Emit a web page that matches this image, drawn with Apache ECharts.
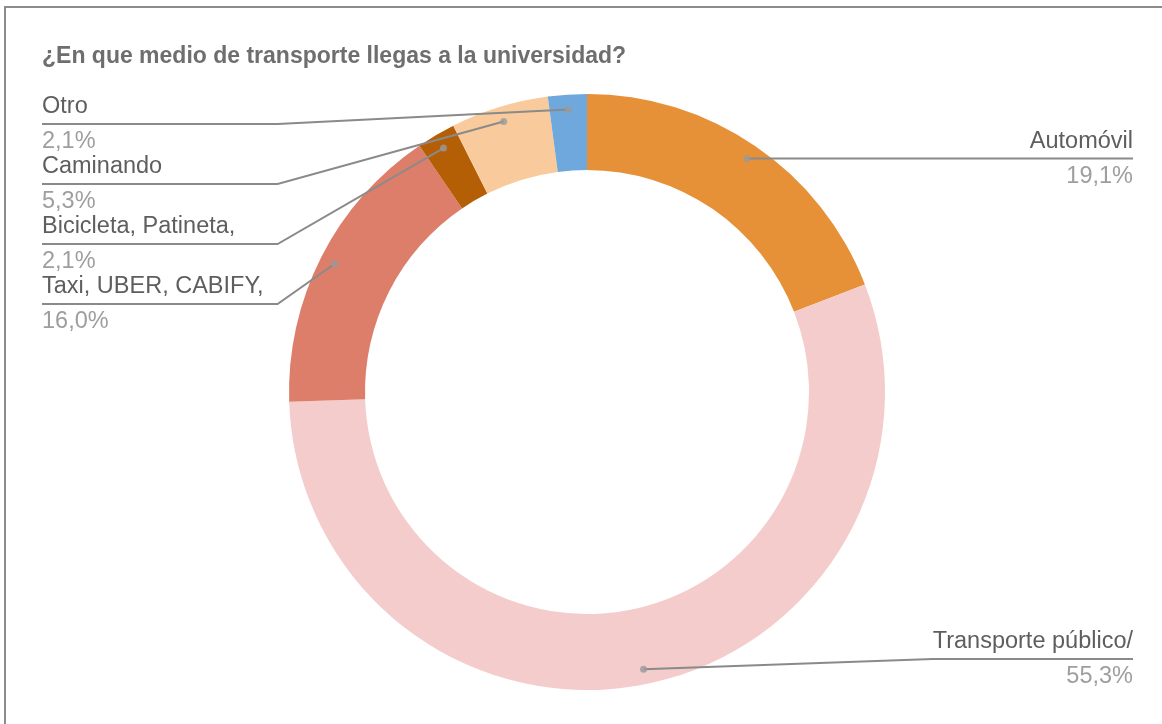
<!DOCTYPE html>
<html>
<head>
<meta charset="utf-8">
<script src="https://cdn.jsdelivr.net/npm/echarts@6/dist/echarts.min.js"></script>
<style>
  html, body { margin: 0; padding: 0; background: #ffffff; }
  #wrap { position: relative; width: 1162px; height: 724px; overflow: hidden; }
  #chart { position: absolute; left: 0; top: 0; width: 1162px; height: 724px; }
  #frame { position: absolute; left: 4px; top: 6px; right: -4px; bottom: -4px;
           border-top: 2px solid #8c8c8c; border-left: 2px solid #8c8c8c; pointer-events: none; }
</style>
</head>
<body>
<div id="wrap">
  <div id="chart"></div>
  <div id="frame"></div>
</div>
<script>
// Survey answers, clockwise from 12 o'clock
const categories = [
  'Automóvil',
  'Transporte público/',
  'Taxi, UBER, CABIFY,',
  'Bicicleta, Patineta,',
  'Caminando',
  'Otro'
];
const shares = [19.1, 55.3, 16.0, 2.1, 5.3, 2.1];
const sliceColors = ['#e69138', '#f4cccc', '#dd7e6b', '#b45f06', '#f9cb9c', '#6fa8dc'];
const titleText = '¿En que medio de transporte llegas a la universidad?';

// Geometry of the ring and the callout columns
const CENTER = [587, 392];
const R_IN = 222;
const R_OUT = 298;
const DOT_R = 283;
const LEFT_X = 42;
const RIGHT_X = 1133;
const LABEL_TOP = 124;
const LABEL_BOTTOM = 659;
const LABEL_STEP = 60;
const ELBOW_GAP = 14;
const FONT = '"Liberation Sans", Arial, sans-serif';
const FONT_SIZE = 23.5;
const TITLE_SIZE = 23;

const total = shares.reduce((a, b) => a + b, 0);
const fmtPct = v => v.toFixed(1).replace('.', ',') + '%';

// Mid-angle of every slice (in share units) and its anchor dot
const mids = [];
let acc = 0;
shares.forEach(v => { mids.push(acc + v / 2); acc += v; });
const anchors = mids.map(m => {
  const t = (m / total) * Math.PI * 2;
  return [CENTER[0] + DOT_R * Math.sin(t), CENTER[1] - DOT_R * Math.cos(t)];
});

// Text widths for the elbow of the callout lines
const ctx = document.createElement('canvas').getContext('2d');
ctx.font = FONT_SIZE + 'px ' + FONT;
const textW = s => ctx.measureText(s).width;

const leftIdx = [], rightIdx = [];
anchors.forEach((p, i) => (p[0] < CENTER[0] ? leftIdx : rightIdx).push(i));
const byY = (a, b) => anchors[a][1] - anchors[b][1];
leftIdx.sort(byY);
rightIdx.sort(byY);

const lineY = {};
let prev = -Infinity;
leftIdx.forEach(i => {
  const y = Math.max(anchors[i][1], prev + LABEL_STEP, LABEL_TOP);
  lineY[i] = y; prev = y;
});
prev = -Infinity;
rightIdx.forEach(i => {
  const y = Math.min(Math.max(anchors[i][1], prev + LABEL_STEP), LABEL_BOTTOM);
  lineY[i] = y; prev = y;
});
const leftElbow = LEFT_X + Math.max(...leftIdx.map(i => textW(categories[i]))) + ELBOW_GAP;
const rightElbow = RIGHT_X - Math.max(...rightIdx.map(i => textW(categories[i])));

const pieData = categories.map((name, i) => ({
  name, value: shares[i], itemStyle: { color: sliceColors[i] }
}));

const chart = echarts.init(document.getElementById('chart'), null, { renderer: 'canvas' });

chart.setOption({
  animation: false,
  backgroundColor: '#ffffff',
  title: {
    text: titleText,
    left: LEFT_X,
    top: 45,
    padding: 0,
    textStyle: { fontFamily: FONT, fontSize: TITLE_SIZE, fontWeight: 'bold', color: '#6e6e6e' }
  },
  polar: { center: CENTER, radius: R_OUT },
  angleAxis: { type: 'value', min: 0, max: total, startAngle: 90, clockwise: true, show: false },
  radiusAxis: { type: 'value', min: 0, max: R_OUT, show: false },
  series: [
    // the coloured ring
    {
      type: 'pie',
      center: CENTER,
      radius: [R_IN, R_OUT],
      startAngle: 90,
      clockwise: true,
      silent: true,
      itemStyle: { borderWidth: 0, borderRadius: 0 },
      label: { show: false },
      labelLine: { show: false },
      data: pieData,
      z: 2
    },
    // callouts, drawn on top of the ring
    {
      type: 'pie',
      center: CENTER,
      radius: [R_IN, R_OUT],
      startAngle: 90,
      clockwise: true,
      avoidLabelOverlap: false,
      silent: true,
      itemStyle: { color: 'rgba(0,0,0,0)', borderWidth: 0 },
      data: categories.map((name, i) => ({ name, value: shares[i] })),
      label: {
        show: true,
        position: 'outside',
        fontFamily: FONT,
        formatter: p => '{n|' + p.name + '}\n{p|' + fmtPct(shares[p.dataIndex]) + '}',
        rich: {
          n: { fontFamily: FONT, fontSize: FONT_SIZE, color: '#5e5e5e', lineHeight: 35 },
          p: { fontFamily: FONT, fontSize: FONT_SIZE, color: '#9e9e9e', lineHeight: 35 }
        }
      },
      labelLine: { show: true, lineStyle: { color: '#8a8a8a', width: 2 } },
      labelLayout: params => {
        const i = params.dataIndex;
        const a = anchors[i];
        const y = lineY[i];
        const isLeft = a[0] < CENTER[0];
        return isLeft ? {
          x: LEFT_X, y: y, align: 'left', verticalAlign: 'middle',
          labelLinePoints: [[a[0], a[1]], [leftElbow, y], [LEFT_X, y]]
        } : {
          x: RIGHT_X, y: y, align: 'right', verticalAlign: 'middle',
          labelLinePoints: [[a[0], a[1]], [rightElbow, y], [RIGHT_X, y]]
        };
      },
      z: 4
    },
    // anchor dots
    {
      type: 'scatter',
      coordinateSystem: 'polar',
      silent: true,
      symbol: 'circle',
      symbolSize: 7,
      itemStyle: { color: '#9a9a9a' },
      data: mids.map(m => [DOT_R, m]),
      z: 6
    }
  ]
});
</script>
</body>
</html>
